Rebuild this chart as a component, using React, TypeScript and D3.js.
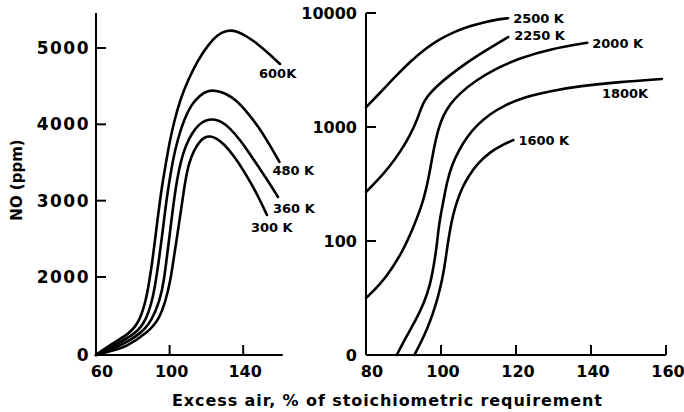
import React from 'react';
import * as d3 from 'd3';

type Pt = [number, number];

// Left panel: NO (ppm) against excess air (%), one curve per preheat temperature
const no600K: Pt[] = [[60, 0], [66, 213], [79, 564], [83.9, 897], [87.2, 1410], [89.1, 1923], [90.7, 2223], [92.1, 2485], [93.4, 2747], [94.8, 3009], [96.4, 3271], [98.3, 3533], [100.2, 3795], [102.7, 4057], [105.7, 4319], [110, 4581], [115.4, 4843], [120.9, 5039], [125.8, 5170], [131.2, 5236], [136.6, 5223], [142.1, 5151], [147.5, 5059], [152.9, 4948], [160, 4790]];
const no480K: Pt[] = [[60, 0], [68.7, 213], [82.3, 564], [87.2, 897], [90.7, 1410], [92.6, 1923], [94.2, 2223], [95.6, 2485], [97, 2747], [98.3, 3009], [100, 3271], [101.8, 3533], [104.3, 3795], [107.8, 4057], [111.6, 4253], [116.5, 4384], [120.9, 4443], [125.2, 4443], [130.1, 4410], [136.1, 4319], [142.1, 4162], [148, 3978], [153.5, 3769], [159.7, 3507]];
const no360K: Pt[] = [[60, 0], [72.5, 213], [85, 564], [90.4, 897], [94.8, 1410], [97, 1923], [98.3, 2223], [99.7, 2485], [101, 2747], [102.4, 3009], [104, 3271], [106.2, 3533], [108.9, 3729], [112.2, 3886], [116, 4004], [119.8, 4057], [123.6, 4070], [127.9, 4044], [132.8, 3952], [138.3, 3795], [143.7, 3611], [149.1, 3415], [154.6, 3218], [158.9, 3048]];
const no300K: Pt[] = [[60, 0], [66.5, 77], [76.8, 213], [87.7, 564], [94.2, 897], [98, 1410], [100.5, 1923], [102.1, 2223], [103.8, 2485], [105.4, 2747], [107, 3009], [108.6, 3271], [110.5, 3494], [113.3, 3664], [116.5, 3782], [119.2, 3834], [122, 3847], [125.2, 3821], [129.6, 3742], [135, 3585], [140.4, 3389], [144.8, 3205], [149.1, 3009], [152.9, 2812]];

// Right panel: NO (ppm, log) against excess air (%), one curve per flame temperature
const no2500K: Pt[] = [[80, 1489], [83.7, 1986], [87.7, 2746], [91.7, 3719], [95.7, 4833], [99.7, 5913], [103.7, 6883], [107.7, 7691], [111.7, 8337], [115.7, 8851], [117.9, 8995]];
const no2250K: Pt[] = [[80, 269], [83.2, 343], [86.4, 455], [89.1, 604], [91.2, 785], [92.8, 1000], [93.9, 1224], [94.7, 1468], [95.7, 1725], [97.1, 1986], [99.2, 2335], [102.4, 2856], [106.4, 3570], [110.4, 4369], [114.4, 5238], [117.9, 6155]];
const no2000K: Pt[] = [[80, 31.6], [83.7, 41.1], [87.2, 59.1], [89.9, 83.4], [92, 117.5], [93.6, 159], [94.9, 207], [96, 280], [97.1, 420], [98.1, 654], [99.2, 942], [100.5, 1248], [102.4, 1591], [105.1, 1986], [109.1, 2533], [114.4, 3230], [121.1, 4029], [129.1, 4833], [139, 5485]];
const no1800K: Pt[] = [[88.2, 10], [90.7, 14.4], [93.3, 20.3], [95.5, 28.6], [97.1, 41.1], [98.1, 61.5], [98.8, 86.8], [99.3, 125], [99.9, 169], [100.7, 229], [101.6, 330], [102.9, 465], [104.8, 628], [106.9, 817], [109.6, 1042], [113.1, 1301], [117.1, 1560], [122.4, 1834], [129.1, 2069], [137.1, 2290], [147.7, 2482], [158.9, 2636]];
const no1600K: Pt[] = [[92.9, 10], [94.7, 13], [96.3, 16.9], [97.9, 23.3], [99.2, 32.3], [100.3, 45.5], [101.1, 64.1], [101.7, 90.3], [102.4, 125], [103.2, 169], [104.3, 224], [105.6, 292], [107.5, 379], [109.9, 483], [113.1, 604], [116.3, 695], [119.3, 769]];

const leftNames = ['600K', '480 K', '360 K', '300 K'];
const leftCurves = [no600K, no480K, no360K, no300K];
const rightNames = ['2500 K', '2250 K', '2000 K', '1800K', '1600 K'];
const rightCurves = [no2500K, no2250K, no2000K, no1800K, no1600K];

const leftXTicks = [60, 100, 140];
const leftYTicks = [0, 2000, 3000, 4000, 5000];
const rightXTicks = [80, 100, 120, 140, 160];
const rightYTicks = [10, 100, 1000, 10000];
const rightYTickLabels = ['0', '100', '1000', '10000'];

const xTitle = 'Excess air, % of stoichiometric requirement';
const yTitle = 'NO (ppm)';

const FONT = '"DejaVu Sans", sans-serif';
const INK = '#000';

export default function App() {
  const W = 684;
  const H = 412;
  const base = 355;

  const xL = d3.scaleLinear().domain([60, 160]).range([96, 280]);
  // the printed left axis spaces 0-2000 like a single 1000 step
  const yL = d3.scaleLinear().domain([0, 2000, 5000]).range([base, 277, 48]);
  const xR = d3.scaleLinear().domain([80, 160]).range([366, 666]);
  const yR = d3.scaleLog().domain([10, 10000]).range([base, 13]);

  const lineL = d3.line<Pt>().x(d => xL(d[0])).y(d => yL(d[1])).curve(d3.curveBasis);
  const lineR = d3.line<Pt>().x(d => xR(d[0])).y(d => yR(d[1])).curve(d3.curveBasis);

  const leftLabelOffset: Pt[] = [[-21, 14], [-7, 13], [-5, 16], [-16, 17]];
  const rightLabelOffset: Pt[] = [[5, 5], [6, 3], [5, 5], [-60, 19], [5, 5]];

  const axisW = 2;
  const tick = 10;

  return (
    <svg width={W} height={H} viewBox={`0 0 ${W} ${H}`}
      style={{ position: 'absolute', left: 0, top: 0, background: '#fff' }}
      fontFamily={FONT} fontWeight="bold" fill={INK}>
      <rect x={0} y={0} width={W} height={H} fill="#fff" />

      {/* left panel axes */}
      <g stroke={INK} strokeWidth={axisW} fill="none">
        <line x1={xL(60)} y1={13} x2={xL(60)} y2={base} />
        <line x1={xL(60)} y1={base} x2={xL(161.5)} y2={base} />
        {leftYTicks.filter(v => v > 0).map(v => (
          <line key={v} x1={xL(60)} y1={yL(v)} x2={xL(60) + tick} y2={yL(v)} />
        ))}
        {leftXTicks.filter(v => v > 60).map(v => (
          <line key={v} x1={xL(v)} y1={base} x2={xL(v)} y2={base - tick} />
        ))}
      </g>
      <g fontSize={17} textAnchor="end" letterSpacing={1.5}>
        {leftYTicks.map(v => (
          <text key={v} x={xL(60) - 6} y={yL(v) + 6}>{String(v)}</text>
        ))}
      </g>
      <g fontSize={16} textAnchor="middle">
        {leftXTicks.map(v => (
          <text key={v} x={xL(v) + (v === 60 ? 6 : 2)} y={377}>{String(v)}</text>
        ))}
      </g>

      {/* right panel axes */}
      <g stroke={INK} strokeWidth={axisW} fill="none">
        <line x1={xR(80)} y1={yR(10000)} x2={xR(80)} y2={base} />
        <line x1={xR(80)} y1={base} x2={xR(160)} y2={base} />
        {rightYTicks.filter(v => v > 10).map(v => (
          <line key={v} x1={xR(80)} y1={yR(v)} x2={xR(80) + tick} y2={yR(v)} />
        ))}
        {rightXTicks.filter(v => v > 80).map(v => (
          <line key={v} x1={xR(v)} y1={base} x2={xR(v)} y2={base - tick} />
        ))}
      </g>
      <g fontSize={16} textAnchor="end">
        {rightYTicks.map((v, i) => (
          <text key={v} x={xR(80) - 9} y={yR(v) + 6}>{rightYTickLabels[i]}</text>
        ))}
      </g>
      <g fontSize={16} textAnchor="middle">
        {rightXTicks.map(v => (
          <text key={v} x={xR(v) + (v === 80 ? 6 : 2)} y={377}>{String(v)}</text>
        ))}
      </g>

      {/* curves */}
      <g stroke={INK} strokeWidth={2.6} fill="none" strokeLinecap="round" strokeLinejoin="round">
        {leftCurves.map((c, i) => <path key={leftNames[i]} d={lineL(c) ?? ''} />)}
        {rightCurves.map((c, i) => <path key={rightNames[i]} d={lineR(c) ?? ''} />)}
      </g>

      {/* curve labels */}
      <g fontSize={13}>
        {leftCurves.map((c, i) => {
          const last = c[c.length - 1];
          return (
            <text key={leftNames[i]} x={xL(last[0]) + leftLabelOffset[i][0]} y={yL(last[1]) + leftLabelOffset[i][1]}>
              {leftNames[i]}
            </text>
          );
        })}
        {rightCurves.map((c, i) => {
          const last = c[c.length - 1];
          return (
            <text key={rightNames[i]} x={xR(last[0]) + rightLabelOffset[i][0]} y={yR(last[1]) + rightLabelOffset[i][1]}>
              {rightNames[i]}
            </text>
          );
        })}
      </g>

      {/* axis titles */}
      <text x={172} y={406} fontSize={16} textLength={430} lengthAdjust="spacing">{xTitle}</text>
      <text transform="translate(22,180) rotate(-90)" fontSize={15} textAnchor="middle">{yTitle}</text>
    </svg>
  );
}
